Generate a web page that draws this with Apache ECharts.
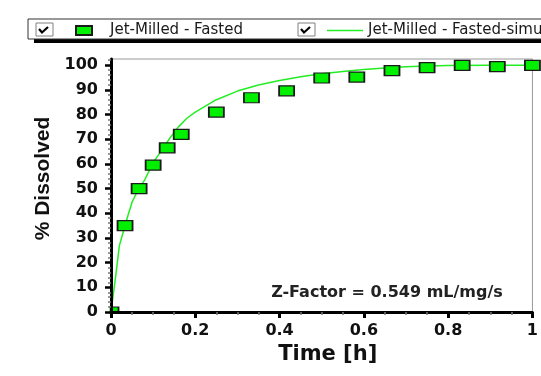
<!DOCTYPE html>
<html>
<head>
<meta charset="utf-8">
<script src="https://cdn.jsdelivr.net/npm/echarts@6/dist/echarts.min.js"></script>
<style>html,body{margin:0;padding:0;background:#fff}#c{width:541px;height:376px}</style>
</head>
<body>
<div id="c"></div>
<script>
// Observed dissolution (Jet-Milled - Fasted)
var obsTime = [0, 0.0333, 0.0667, 0.1, 0.1333, 0.1667, 0.25, 0.3333, 0.4167, 0.5, 0.5833, 0.6667, 0.75, 0.8333, 0.9167, 1.0];
var obsDissolved = [0, 35, 50, 59.5, 66.5, 72, 81, 86.8, 89.6, 94.8, 95.2, 97.8, 99, 99.9, 99.4, 99.9];
// Simulated curve (Jet-Milled - Fasted-sim)
var simTime = [0, 0.01, 0.02, 0.03, 0.04, 0.05, 0.06, 0.07, 0.08, 0.1, 0.12, 0.14, 0.16, 0.18, 0.2, 0.25, 0.3, 0.35, 0.4, 0.45, 0.5, 0.55, 0.6, 0.65, 0.7, 0.75, 0.8, 0.9, 1.0];
var simDissolved = [0, 13, 27, 33, 39, 44.5, 48, 51, 53.5, 60.5, 65.5, 70.5, 75, 78.5, 81, 86, 89.5, 92, 93.8, 95.3, 96.5, 97.4, 98.2, 98.9, 99.4, 99.7, 99.9, 100, 100];
// Tick labels
var yMajorTicks = [0, 10, 20, 30, 40, 50, 60, 70, 80, 90, 100];
var yMinorTicks = [2, 4, 6, 8, 12, 14, 16, 18, 22, 24, 26, 28, 32, 34, 36, 38, 42, 44, 46, 48, 52, 54, 56, 58, 62, 64, 66, 68, 72, 74, 76, 78, 82, 84, 86, 88, 92, 94, 96, 98, 102];
var seriesNames = ['Jet-Milled - Fasted', 'Jet-Milled - Fasted-simulated'];
var noteText = 'Z-Factor = 0.549 mL/mg/s';

var obsData = obsTime.map(function (t, i) { return [t, obsDissolved[i]]; });
var simData = simTime.map(function (t, i) { return [t, simDissolved[i]]; });

var chart = echarts.init(document.getElementById('c'), null, {renderer: 'canvas'});
var dark = '#111';
function checkbox(x, y) {
  return [
    {type: 'rect', shape: {x: x, y: y, width: 17, height: 13}, style: {fill: '#fff', stroke: '#808080', lineWidth: 1}, z: 101},
    {type: 'polyline', shape: {points: [[x + 3, y + 6], [x + 6, y + 9.5], [x + 12, y + 4]]}, style: {stroke: '#000', lineWidth: 2.2, fill: null}, z: 102}
  ];
}
var graphics = [
  {type: 'rect', shape: {x: 34, y: 38, width: 600, height: 5}, style: {fill: '#000'}, z: 99},
  {type: 'rect', shape: {x: 28, y: 19, width: 600, height: 20}, style: {fill: '#fff', stroke: '#333', lineWidth: 1}, z: 100},
  // white masks: plot-area clipping of markers outside the axes
  {type: 'rect', shape: {x: 90, y: 295, width: 19.5, height: 30}, style: {fill: '#fff'}, z: 5},
  {type: 'rect', shape: {x: 90, y: 313.5, width: 45, height: 10}, style: {fill: '#fff'}, z: 5}
].concat(checkbox(36, 23)).concat(checkbox(298, 23));

chart.setOption({
  animation: false,
  backgroundColor: '#fff',
  title: {
    text: noteText,
    left: 382, top: 280, textAlign: 'center',
    textStyle: {fontFamily: 'DejaVu Sans', fontWeight: 'bold', fontSize: 16, color: '#222'}
  },
  legend: [
    {
      data: [{name: seriesNames[0], icon: 'rect'}],
      left: 75, top: 23, padding: 0, selectedMode: false, z: 110,
      itemWidth: 16, itemHeight: 9,
      textStyle: {fontFamily: 'DejaVu Sans', fontSize: 15, color: '#1a1a1a', padding: [0, 0, 0, 13]}
    },
    {
      data: [{name: seriesNames[1], icon: 'rect'}],
      left: 327, top: 23, padding: 0, selectedMode: false, z: 110,
      itemWidth: 36, itemHeight: 1.5,
      textStyle: {fontFamily: 'DejaVu Sans', fontSize: 15, color: '#1a1a1a'}
    }
  ],
  graphic: graphics,
  grid: {left: 111, right: 0, top: 59, bottom: 64, show: true, borderColor: '#999', borderWidth: 1, backgroundColor: 'transparent'},
  xAxis: {
    type: 'value', min: 0, max: 1, interval: 0.2, z: 10,
    name: 'Time [h]', nameLocation: 'middle', nameGap: 29,
    nameTextStyle: {fontFamily: 'DejaVu Sans', fontWeight: 'bold', fontSize: 21, color: dark, padding: [0, 0, 0, 12]},
    axisLine: {lineStyle: {color: '#000', width: 3}},
    axisTick: {length: 6, lineStyle: {color: '#000', width: 3}},
    minorTick: {show: true, splitNumber: 4, length: 3, lineStyle: {color: '#777', width: 1.5}},
    axisLabel: {margin: 11, fontFamily: 'DejaVu Sans', fontWeight: 'bold', fontSize: 16, color: dark,
      formatter: function (v) { return String(Math.round(v * 10) / 10); }},
    splitLine: {show: false}
  },
  yAxis: [
    {
      type: 'value', min: 0, max: 102.5, interval: 10, z: 10,
      name: '% Dissolved', nameLocation: 'middle', nameGap: 56, nameRotate: 90,
      nameTextStyle: {fontFamily: 'Liberation Sans', fontWeight: 'bold', fontSize: 21, color: dark, padding: [0, 0, 0, 14]},
      axisLine: {lineStyle: {color: '#000', width: 3}},
      axisTick: {length: 6, customValues: yMajorTicks, lineStyle: {color: '#000', width: 2.5}},
      axisLabel: {margin: 13, customValues: yMajorTicks, fontFamily: 'DejaVu Sans', fontWeight: 'bold', fontSize: 16, color: dark},
      splitLine: {show: false}
    },
    {
      type: 'value', min: 0, max: 102.5, position: 'left', z: 10,
      axisLine: {show: false},
      axisTick: {length: 3, customValues: yMinorTicks, lineStyle: {color: '#777', width: 1.5}},
      axisLabel: {show: false},
      splitLine: {show: false}
    }
  ],
  series: [
    {
      name: seriesNames[1], type: 'line', data: simData, showSymbol: false, symbol: 'none',
      lineStyle: {color: '#22ee22', width: 1.5}, itemStyle: {color: '#22ee22'}, z: 3
    },
    {
      name: seriesNames[0], type: 'scatter', data: obsData, symbol: 'rect', symbolSize: [15, 10],
      itemStyle: {color: '#00f000', borderColor: '#1a1a1a', borderWidth: 1.5, opacity: 1}, z: 4
    }
  ]
});
</script>
</body>
</html>
